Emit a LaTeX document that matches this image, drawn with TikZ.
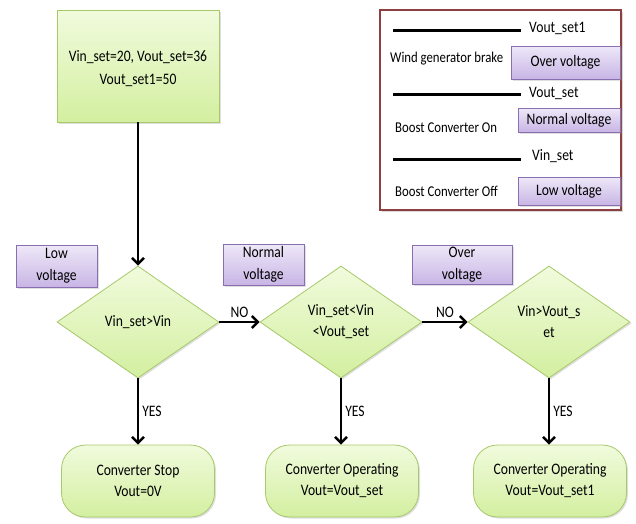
\documentclass[tikz,border=0pt]{standalone}
\usepackage{fontspec}
\setmainfont{Carlito}[FakeStretch=0.85]
\usetikzlibrary{shapes.geometric,arrows.meta,shadows}
\definecolor{gtop}{HTML}{F1FBDD}
\definecolor{gbot}{HTML}{D3EFA0}
\definecolor{gline}{HTML}{A7C96A}
\definecolor{ptop}{HTML}{EEE8F8}
\definecolor{pbot}{HTML}{C8B5E5}
\definecolor{pline}{HTML}{8A6FB0}
\definecolor{lborder}{HTML}{8E4040}
\tikzset{
  txt/.style={font=\fontsize{16}{21}\selectfont, align=center},
  greenbox/.style={txt, draw=gline, line width=0.8pt, top color=gtop, bottom color=gbot,
    drop shadow={opacity=0.25, shadow xshift=1.5pt, shadow yshift=-1.5pt}},
  purplebox/.style={txt, draw=pline, line width=0.8pt, top color=ptop, bottom color=pbot, inner sep=0pt,
    drop shadow={opacity=0.25, shadow xshift=1.5pt, shadow yshift=-1.5pt}},
  dia/.style={greenbox, diamond, inner sep=0pt, minimum width=162pt, minimum height=112pt},
  endbox/.style={greenbox, rounded corners=24pt, minimum width=153pt, minimum height=72pt},
  flow/.style={line width=2.6pt, -{Straight Barb[length=6pt,width=12pt,line width=2.4pt]}},
  legline/.style={line width=3pt},
  lbl/.style={txt, inner sep=1pt},
  desc/.style={lbl, font=\fontsize{15}{20}\selectfont, anchor=west},
}
\begin{document}
\begin{tikzpicture}[x=1pt,y=-1pt]
\useasboundingbox (0,0) rectangle (636,523);

% legend
\node[draw=lborder, line width=1.2pt, fill=white, minimum width=241pt, minimum height=200pt, inner sep=0pt,
  drop shadow={opacity=0.3, shadow xshift=1.5pt, shadow yshift=-1.5pt}] (legend) at (500.5,110) {};
\coordinate (l1a) at (393,30); \coordinate (l1b) at (521,30);
\coordinate (l2a) at (393,94); \coordinate (l2b) at (521,94);
\coordinate (l3a) at (393,159); \coordinate (l3b) at (521,159);
\draw[legline] (l1a) -- (l1b);
\draw[legline] (l2a) -- (l2b);
\draw[legline] (l3a) -- (l3b);
\node[lbl, anchor=west] (t1) at (528,28) {Vout\_set1};
\node[lbl, anchor=west] (t2) at (528,93) {Vout\_set};
\node[lbl, anchor=west] (t3) at (531,156) {Vin\_set};
\node[desc] (d1) at (389,59) {Wind generator brake};
\node[desc] (d2) at (394,128) {Boost Converter On};
\node[desc] (d3) at (394,191) {Boost Converter Off};
\node[purplebox, minimum width=109pt, minimum height=33pt] (lov) at (565.5,62.5) {Over voltage};
\node[purplebox, minimum width=102pt, minimum height=24pt] (lnv) at (569,120) {Normal voltage};
\node[purplebox, minimum width=102pt, minimum height=28pt] (llv) at (569,191) {Low voltage};

% flowchart
\node[greenbox, minimum width=162pt, minimum height=112pt, font=\fontsize{16}{22}\selectfont] (init) at (138,66)
  {\raisebox{-3pt}[\height][\depth]{\begin{tabular}{@{}c@{}}Vin\_set=20, Vout\_set=36\\[1pt]Vout\_set1=50\end{tabular}}};

\node[dia] (c1) at (138,322) {Vin\_set>Vin};
\node[dia] (c2) at (341,322) {Vin\_set<Vin\\<Vout\_set};
\node[dia] (c3) at (549,322) {Vin>Vout\_s\\et};

\node[purplebox, minimum width=81pt, minimum height=42pt, font=\fontsize{16}{22}\selectfont] (plow) at (56.5,266) {Low\\voltage};
\node[purplebox, minimum width=81pt, minimum height=41pt, font=\fontsize{16}{22}\selectfont] (pnorm) at (263.5,264.5) {Normal\\voltage};
\node[purplebox, minimum width=100pt, minimum height=39pt, font=\fontsize{16}{22}\selectfont] (pover) at (462,264.5) {Over\\voltage};

\node[endbox] (e1) at (138,481) {Converter Stop\\Vout=0V};
\node[endbox] (e2) at (342,481) {Converter Operating\\Vout=Vout\_set};
\node[endbox] (e3) at (550,481) {Converter Operating\\Vout=Vout\_set1};

\draw[flow] (init) -- (c1);
\draw[flow] (c1) -- node[lbl, above, yshift=2pt] {NO} (c2);
\draw[flow] (c2) -- node[lbl, above, yshift=2pt] {NO} (c3);
\draw[flow] (c1.south) -- node[lbl, right, xshift=2pt] {YES} (e1.north);
\draw[flow] (c2.south) -- node[lbl, right, xshift=2pt] {YES} (e2.north -| c2.south);
\draw[flow] (c3.south) -- node[lbl, right, xshift=2pt] {YES} (e3.north -| c3.south);
\end{tikzpicture}
\end{document}
